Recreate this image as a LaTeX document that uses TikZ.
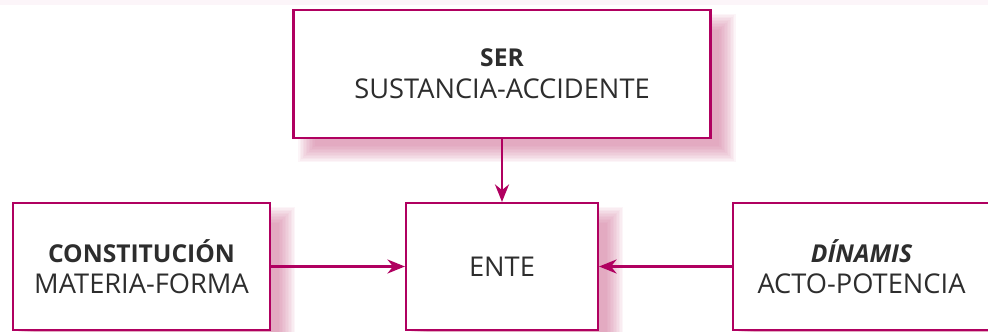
\documentclass[tikz,border=0pt]{standalone}
\usepackage{fontspec}
\setmainfont{Open Sans}
\usetikzlibrary{arrows.meta,calc,backgrounds}
\definecolor{granate}{RGB}{176,0,96}
\definecolor{rosa}{RGB}{200,90,135}
\definecolor{texto}{RGB}{45,45,45}

\begin{document}
\begin{tikzpicture}[node distance=7.2cm]

    % Estilos de los nodos
    \tikzstyle{caja} = [rectangle, minimum width=5.14cm, minimum height=2.54cm, align=center, text centered, draw=granate, line width=1.2pt, fill=white, text=texto]
    \tikzstyle{flecha} = [draw=granate, line width=1.2pt, -{Stealth[length=10pt, width=8pt]}]
    \tikzstyle{sombra} = [fill=rosa, opacity=0.06]

    \useasboundingbox (0,0) rectangle (19.76,6.64);
    \fill[granate!4] (0,6.54) rectangle (19.76,6.64);

    % Nodos
    \node (ente) [caja, minimum width=3.84cm] at (10.04,1.31) {\fontsize{15.5}{17}\selectfont ENTE};
    \node (ser) [caja, above of=ente, node distance=3.85cm, minimum width=8.34cm, minimum height=2.56cm]
        {{\fontsize{14}{16}\selectfont\bfseries SER}\\[6pt] \fontsize{15.5}{17}\selectfont SUSTANCIA-ACCIDENTE};
    \node (constitucion) [caja, left of=ente, xshift=-0.01cm]
        {{\fontsize{14}{16}\selectfont\bfseries CONSTITUCIÓN}\\[6pt] \fontsize{15.5}{17}\selectfont MATERIA-FORMA};
    \node (dinamis) [caja, right of=ente, xshift=-0.01cm]
        {{\fontsize{14}{16}\selectfont\bfseries\itshape DÍNAMIS}\\[6pt] \fontsize{15.5}{17}\selectfont ACTO-POTENCIA};

    % Sombras difuminadas
    \begin{scope}[on background layer]
        \foreach \n in {ser,constitucion,ente,dinamis}
            \foreach \k in {0,...,11}
                \fill[sombra] ($(\n.south west)+(0.3,-0.28)+(-0.18+\k*0.03,-0.18+\k*0.03)$)
                    rectangle ($(\n.north east)+(0.3,-0.28)+(0.18-\k*0.03,0.18-\k*0.03)$);
    \end{scope}

    % Flechas
    \draw [flecha] (ser) -- (ente);
    \draw [flecha] (constitucion) -- (ente);
    \draw [flecha] (dinamis) -- (ente);

\end{tikzpicture}
\end{document}
